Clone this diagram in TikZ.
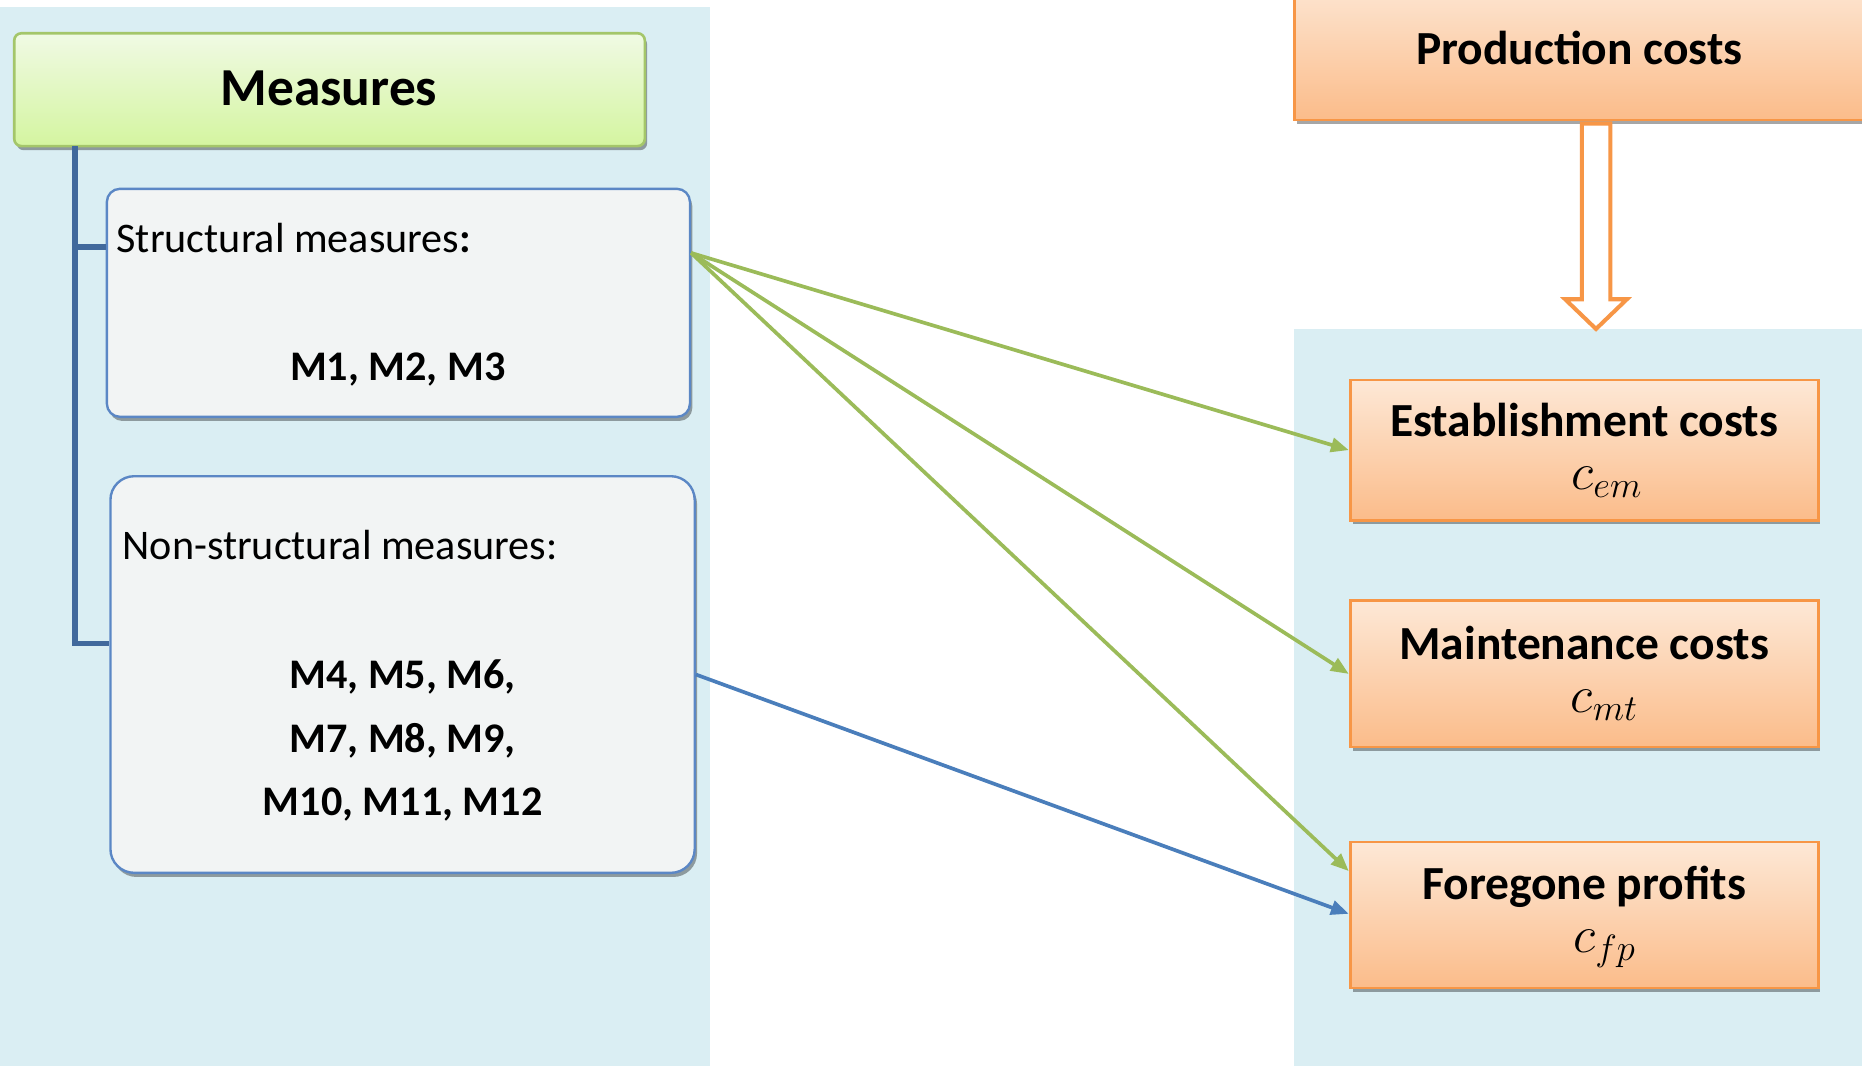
\RequirePackage{fix-cm}
\documentclass[tikz,border=0pt]{standalone}
\usepackage{fontspec}
\setmainfont{Carlito}
\usetikzlibrary{shadows,arrows.meta}
\definecolor{panel}{HTML}{DAEEF3}
\definecolor{greenline}{HTML}{A4C66A}
\definecolor{greentop}{HTML}{F0FAE4}
\definecolor{greenbot}{HTML}{D4F5A0}
\definecolor{orangeline}{HTML}{F79646}
\definecolor{orangetop}{HTML}{FDE8D6}
\definecolor{orangebot}{HTML}{FBBC8A}
\definecolor{boxgray}{HTML}{F2F4F4}
\definecolor{boxline}{HTML}{5B87C5}
\definecolor{treeline}{HTML}{41699C}
\definecolor{arrowgreen}{HTML}{9BBB59}
\definecolor{arrowblue}{HTML}{4A7EBB}
\newcommand{\mathlabel}[2]{\hspace*{#1}{\fontsize{44}{45}\selectfont$#2$}}
\tikzset{
  shadowed/.style={drop shadow={shadow xshift=2pt,shadow yshift=-3.5pt,opacity=.35,fill=black}},
  measbox/.style={shadowed,draw=greenline,line width=2.2pt,rounded corners=6pt,
    top color=greentop,bottom color=greenbot,inner sep=0pt},
  graybox/.style={shadowed,draw=boxline,line width=2pt,fill=boxgray,inner sep=0pt},
  costbox/.style={shadowed,draw=orangeline,line width=2.4pt,
    top color=orangetop,bottom color=orangebot,inner sep=0pt,
    minimum width=394pt},
  txt/.style={inner sep=0pt,text=black},
  big/.style={font=\fontsize{40}{48}\selectfont\bfseries},
  costtxt/.style={inner sep=0pt,text=black,align=center,font=\fontsize{40}{45}\selectfont},
  mid/.style={font=\fontsize{35.5}{42}\selectfont},
  midb/.style={font=\fontsize{35.5}{42}\selectfont\bfseries},
  tree/.style={draw=treeline,line width=4.8pt},
  conn/.style={line width=3.1pt,-{Triangle[length=15pt,width=12pt]}},
}
\begin{document}
\begin{tikzpicture}[x=1pt,y=-1pt]
\clip (0,0) rectangle (1568,898);
\fill[white] (0,0) rectangle (1568,898);
\fill[panel] (0,6) rectangle (598,898);
\fill[panel] (1090,277) rectangle (1568,898);

% left side
\node[measbox,minimum width=531pt,minimum height=95pt] (meas) at (277.5,75.5) {};
\node[txt,font=\fontsize{45}{50}\selectfont\bfseries] (meast) at (277,74) {Measures};

\node[graybox,rounded corners=11pt,minimum width=491pt,minimum height=192pt] (st) at (335.5,255) {};
\node[txt,mid,anchor=base west] (stt) at (98,213) {Structural measures\textbf{:}};
\node[txt,midb,anchor=base] (stl) at (335,320) {M1, M2, M3};

\node[graybox,rounded corners=20pt,minimum width=492pt,minimum height=334pt] (ns) at (339,568) {};
\node[txt,mid,anchor=base west] (nst) at (103,471) {Non-structural measures:};
\node[txt,midb,anchor=base] (nsl1) at (339,580) {M4, M5, M6,};
\node[txt,midb,anchor=base] (nsl2) at (339,634) {M7, M8, M9,};
\node[txt,midb,anchor=base] (nsl3) at (339,687) {M10, M11, M12};

\coordinate (trunk) at (63,123);
\draw[tree] (trunk) |- ([yshift=26pt]ns.west);
\draw[tree] ([yshift=47pt]st.west) -| (trunk);

% right side
\node[costbox,minimum width=490pt,minimum height=121pt] (prod) at (1335,40.5) {};
\node[txt,big,anchor=base] (prodt) at (1330,54) {Production costs};

\draw[draw=orangeline,line width=3.4pt,fill=white,line join=miter]
  (1332,104) -- (1332,252) -- (1318,252) -- (1344,277) -- (1370,252) -- (1356,252) -- (1356,104) -- cycle;

\node[costbox,minimum height=118pt] (est) at (1334,379) {};
\node[costtxt] (estt) at (1334,379) {\textbf{Establishment costs}\\\mathlabel{38pt}{c_{em}}};

\node[costbox,minimum height=123pt] (mt) at (1334,567.5) {};
\node[costtxt] (mtt) at (1334,567) {\textbf{Maintenance costs}\\\mathlabel{34pt}{c_{mt}}};

\node[costbox,minimum height=123pt] (fp) at (1334,770.5) {};
\node[costtxt] (fpt) at (1334,772) {\textbf{Foregone profits}\\\mathlabel{34pt}{c_{fp}}};

% connectors
\coordinate (sa) at ([yshift=42pt]st.east);
\draw[conn,arrowgreen] (sa) -- (est.west);
\draw[conn,arrowgreen] (sa) -- (mt.west);
\draw[conn,arrowgreen] (sa) -- ([yshift=37pt]fp.west);
\draw[conn,arrowblue] (ns.east) -- ([yshift=1pt]fp.west);
\end{tikzpicture}
\end{document}
